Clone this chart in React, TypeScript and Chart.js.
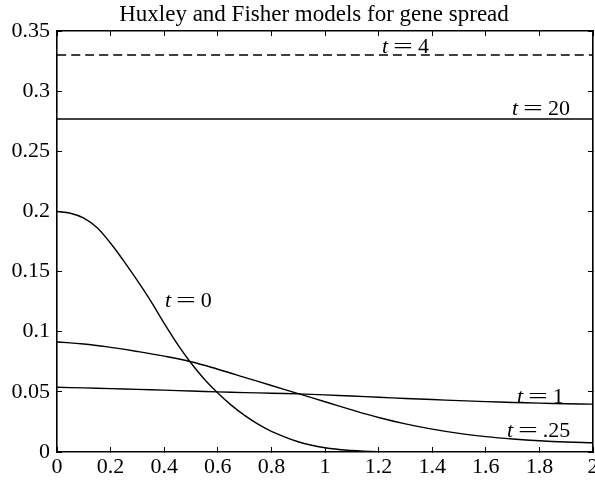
import React, { useEffect, useRef } from 'react';
import { Chart, registerables } from 'chart.js';

Chart.register(...registerables);

// ---- data ----
const xs0 = [0, 0.05, 0.1, 0.15, 0.2, 0.25, 0.3, 0.35, 0.4, 0.45, 0.5, 0.55, 0.6, 0.65, 0.7, 0.75, 0.8, 0.9, 1.0, 1.1, 1.2, 1.3, 1.4, 1.6, 1.8, 2.0];
const t0 = [0.2, 0.1985, 0.1945, 0.1865, 0.1735, 0.1585, 0.1425, 0.1255, 0.107, 0.0895, 0.074, 0.0605, 0.049, 0.039, 0.0305, 0.0232, 0.0172, 0.0085, 0.0035, 0.0012, 0.0002, 0, 0, 0, 0, 0];
const xs = [0, 0.1, 0.2, 0.3, 0.4, 0.5, 0.6, 0.7, 0.8, 0.9, 1.0, 1.1, 1.2, 1.3, 1.4, 1.5, 1.6, 1.7, 1.8, 1.9, 2.0];
const t025 = [0.0915, 0.0898, 0.087, 0.0836, 0.0797, 0.075, 0.0688, 0.0621, 0.0553, 0.0485, 0.0418, 0.035, 0.0287, 0.0234, 0.019, 0.0155, 0.0128, 0.0108, 0.0093, 0.0083, 0.0077];
const t1 = [0.0538, 0.0533, 0.0527, 0.0521, 0.0514, 0.0507, 0.05, 0.0494, 0.0489, 0.0483, 0.0475, 0.0465, 0.0455, 0.0445, 0.0436, 0.0427, 0.0419, 0.0412, 0.0406, 0.0401, 0.0398];
const xFlat = [0, 2];
const t4 = [0.33, 0.33];
const t20 = [0.2768, 0.2768];

const xMin = 0, xMax = 2, xStep = 0.2;
const yMin = 0, yMax = 0.35, yStep = 0.05;

const TITLE = 'Huxley and Fisher models for gene spread';
// curve labels: value text and anchor (data coords: left of "t", baseline)
const labelTexts = ['4', '20', '0', '1', '.25'];
const labelX = [1.213, 1.698, 0.403, 1.716, 1.679];
const labelY = [0.3313, 0.2802, 0.1205, 0.0407, 0.0125];

const toPts = (x: number[], y: number[]) => x.map((v, i) => ({ x: v, y: y[i] }));
const fmt = (v: any) => String(parseFloat(Number(v).toFixed(3)));

const SERIF = '"Liberation Serif", "Times New Roman", serif';

const annotate = {
  id: 'annotate',
  afterDraw(chart: any) {
    const ctx = chart.ctx;
    const sx = chart.scales.x, sy = chart.scales.y;
    const ca = chart.chartArea;
    ctx.save();
    ctx.fillStyle = '#000';
    ctx.textBaseline = 'alphabetic';
    ctx.textAlign = 'center';
    ctx.font = `23px ${SERIF}`;
    ctx.fillText(TITLE, (ca.left + ca.right) / 2 - 11, ca.top - 10);
    ctx.textAlign = 'left';
    labelTexts.forEach((txt, i) => {
      const px = sx.getPixelForValue(labelX[i]);
      const py = sy.getPixelForValue(labelY[i]);
      ctx.font = `italic 22px ${SERIF}`;
      ctx.fillText('t', px, py);
      ctx.font = `22px ${SERIF}`;
      const w = ctx.measureText('=').width * 1.6;
      ctx.save();
      ctx.translate(px + 11, py);
      ctx.scale(1.6, 1);
      ctx.fillText('=', 0, 0);
      ctx.restore();
      ctx.fillText(txt, px + 11 + w + 5, py);
    });
    ctx.restore();
  },
};

const gridOpts = {
  display: true,
  drawOnChartArea: false,
  drawTicks: true,
  tickLength: -5,
  color: '#000',
  lineWidth: 1,
};
const borderOpts = { display: true, color: '#000', width: 1.6 };

export default function App() {
  const ref = useRef<HTMLCanvasElement | null>(null);
  useEffect(() => {
    if (!ref.current) return;
    const line = (data: any[], dash: number[] = []) => ({
      data,
      borderColor: '#000',
      borderWidth: 1.4,
      borderDash: dash,
      pointRadius: 0,
      fill: false,
      tension: 0.4,
      xAxisID: 'x',
      yAxisID: 'y',
    });
    const chart = new Chart(ref.current, {
      type: 'line',
      data: {
        datasets: [
          line(toPts(xFlat, t4), [9, 5]),
          line(toPts(xFlat, t20)),
          line(toPts(xs0, t0)),
          line(toPts(xs, t025)),
          line(toPts(xs, t1)),
        ] as any,
      },
      options: {
        animation: false,
        responsive: false,
        devicePixelRatio: 1,
        layout: { padding: { top: 31, right: 2, left: 0, bottom: 0 } },
        plugins: { legend: { display: false }, title: { display: false }, tooltip: { enabled: false } },
        scales: {
          x: {
            type: 'linear', position: 'bottom', min: xMin, max: xMax,
            ticks: { stepSize: xStep, callback: fmt, color: '#000', padding: 9, maxRotation: 0, autoSkip: false, font: { family: SERIF, size: 22, lineHeight: 1 } },
            grid: gridOpts, border: borderOpts,
            afterFit: (s: any) => { s.height = 29; s.paddingLeft = 0; s.paddingRight = 0; },
          },
          x2: {
            type: 'linear', position: 'top', min: xMin, max: xMax,
            ticks: { stepSize: xStep, display: false },
            grid: gridOpts, border: borderOpts,
            afterFit: (s: any) => { s.height = 0; s.paddingLeft = 0; s.paddingRight = 0; },
          },
          y: {
            type: 'linear', position: 'left', min: yMin, max: yMax,
            ticks: { stepSize: yStep, callback: fmt, color: '#000', padding: 12, autoSkip: false, font: { family: SERIF, size: 22, lineHeight: 1 } },
            grid: gridOpts, border: borderOpts,
            afterFit: (s: any) => { s.width = 57; s.paddingTop = 0; s.paddingBottom = 0; },
          },
          y2: {
            type: 'linear', position: 'right', min: yMin, max: yMax,
            ticks: { stepSize: yStep, display: false },
            grid: gridOpts, border: borderOpts,
            afterFit: (s: any) => { s.width = 0; s.paddingTop = 0; s.paddingBottom = 0; },
          },
        },
      } as any,
      plugins: [annotate],
    });
    return () => chart.destroy();
  }, []);
  return (
    <div style={{ position: 'absolute', left: 0, top: 0, width: 595, height: 481, overflow: 'hidden', background: '#fff' }}>
      <canvas ref={ref} width={595} height={481} style={{ display: 'block', width: 595, height: 481 }} />
    </div>
  );
}
